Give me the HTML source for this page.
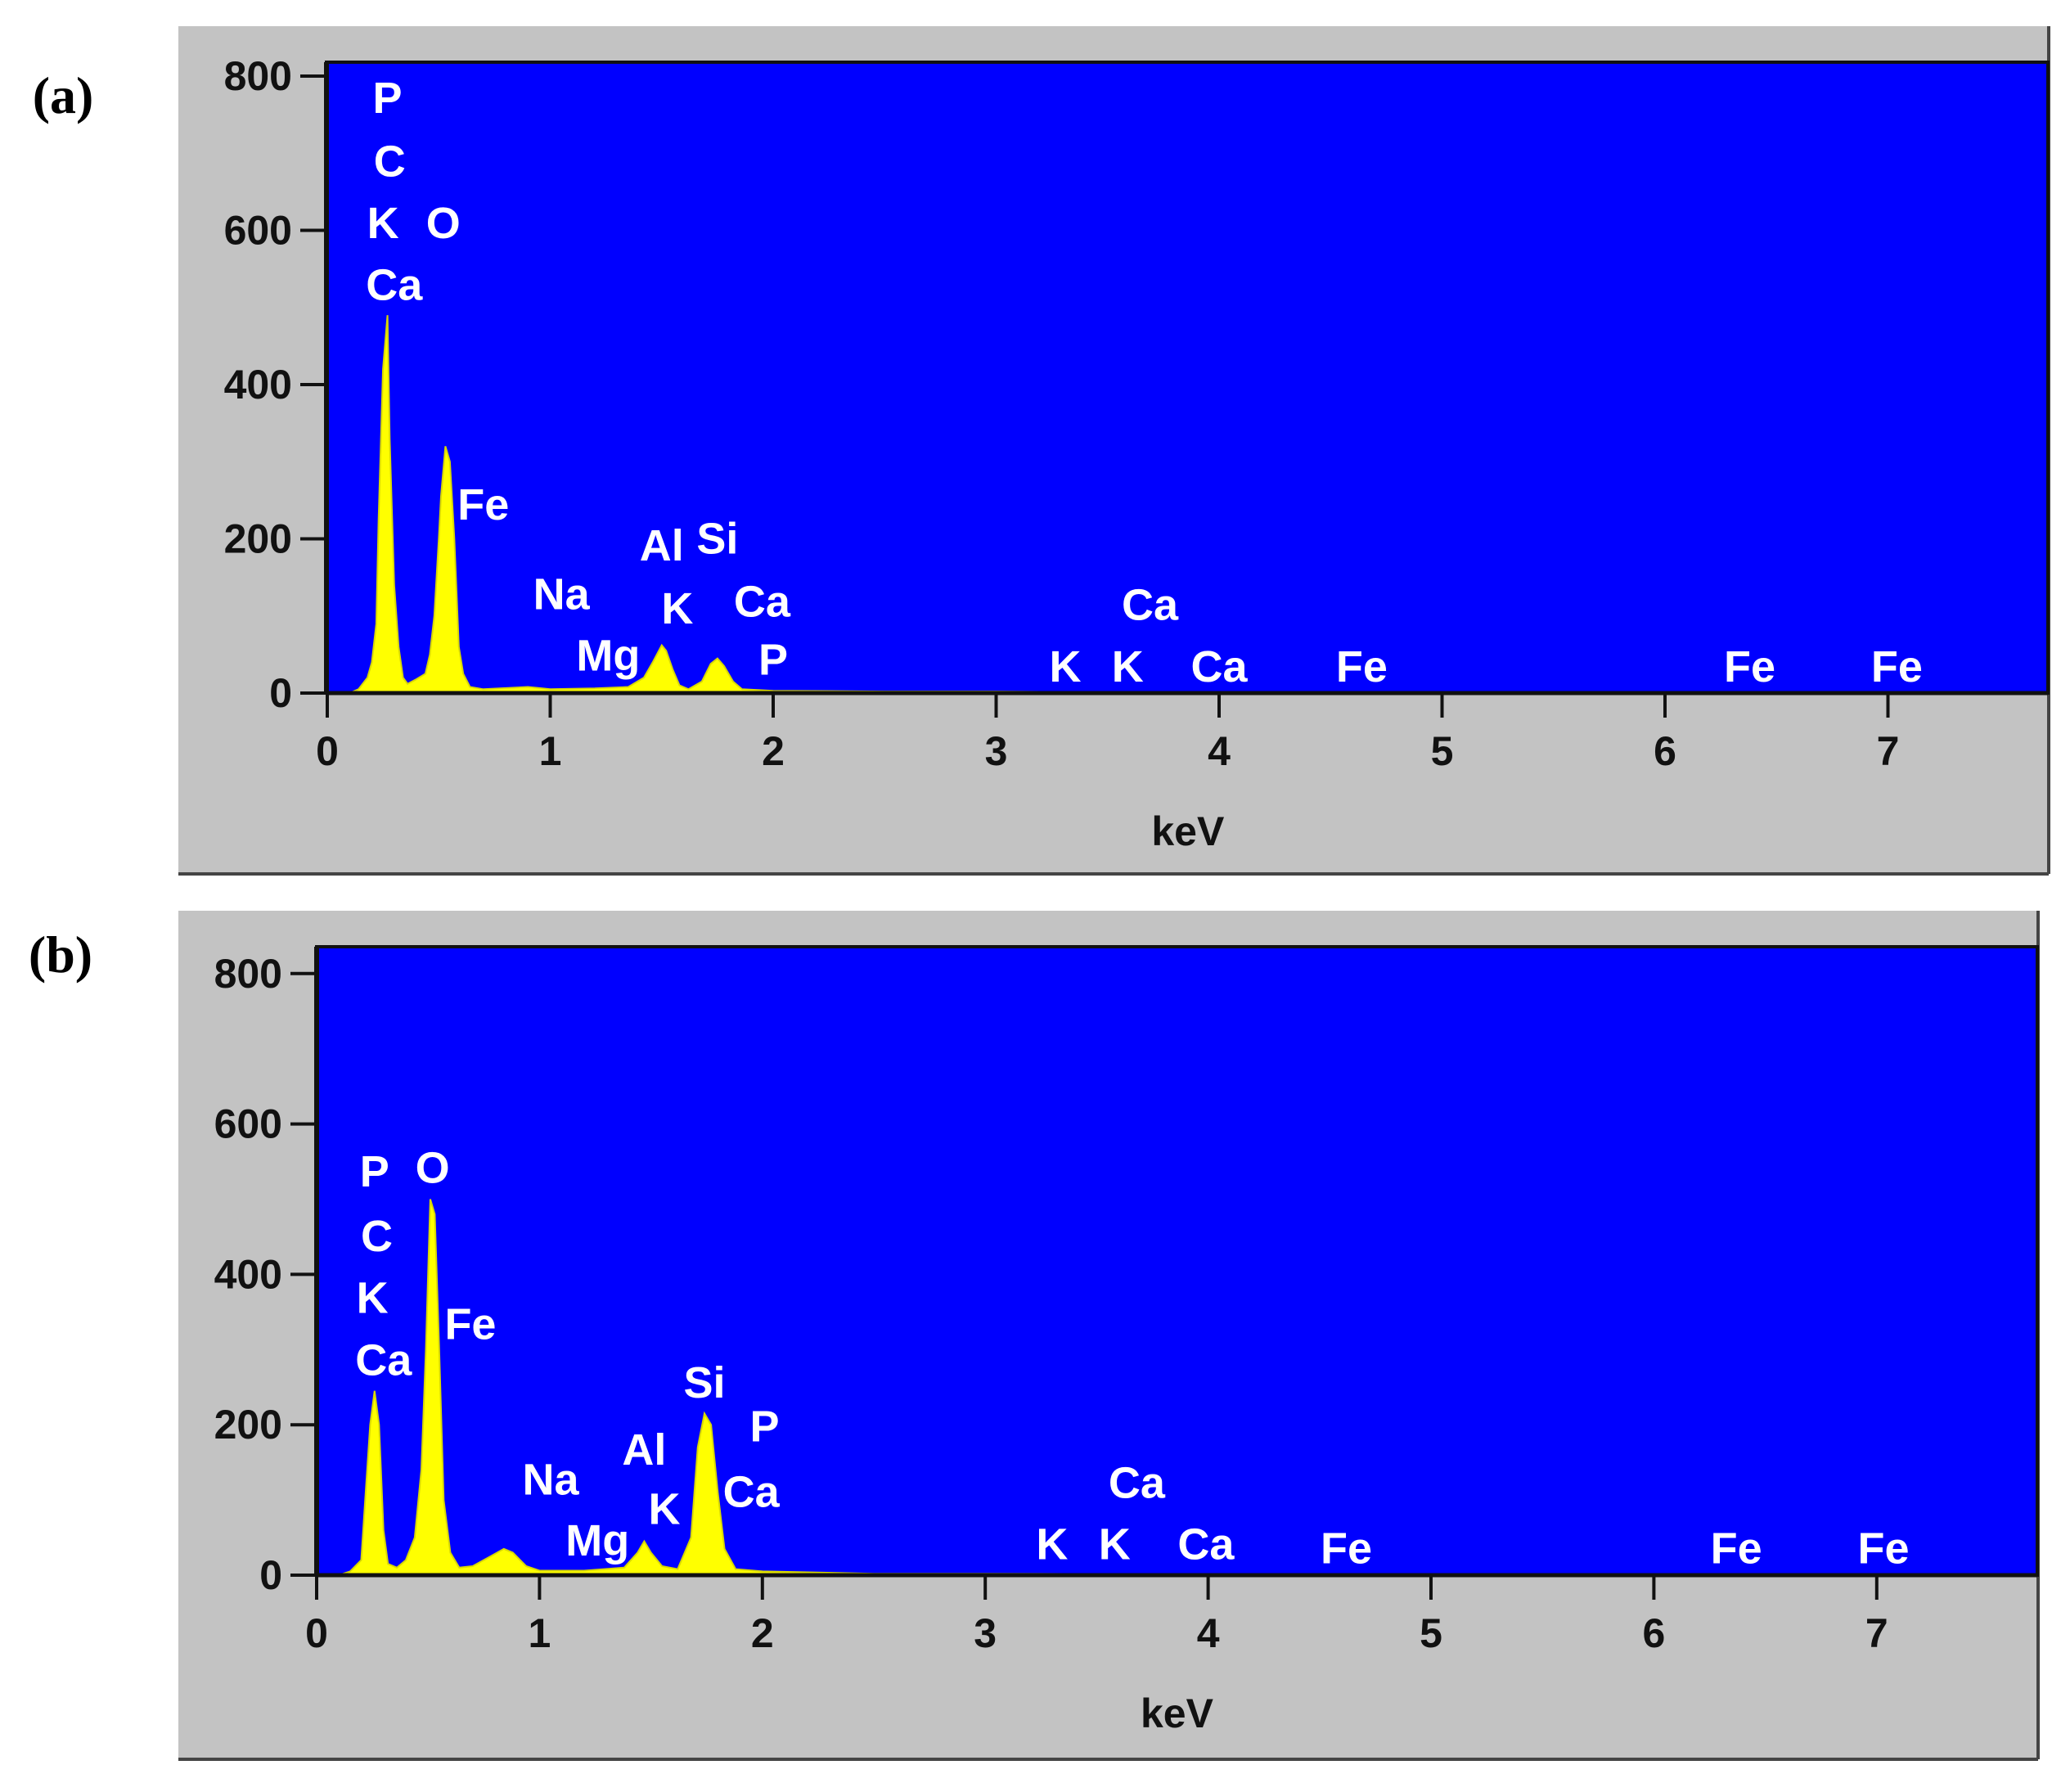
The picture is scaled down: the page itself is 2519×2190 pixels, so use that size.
<!DOCTYPE html>
<html><head><meta charset="utf-8"><style>
html,body{margin:0;padding:0;background:#fff}
svg{display:block}
.tk{font-family:"Liberation Sans",sans-serif;font-weight:bold;font-size:50px;fill:#111}
.el{font-family:"Liberation Sans",sans-serif;font-weight:bold;font-size:54px;fill:#fff}
.pl{font-family:"Liberation Serif",serif;font-weight:bold;font-size:64px;fill:#000}
</style></head><body>
<svg id="fig" width="2519" height="2190" viewBox="0 0 2519 2190" xmlns="http://www.w3.org/2000/svg">
</svg>
<script>
const energyA=[0.10,0.14,0.18,0.20,0.22,0.23,0.25,0.27,0.28,0.30,0.32,0.34,0.36,0.40,0.44,0.46,0.48,0.50,0.51,0.53,0.55,0.57,0.59,0.61,0.64,0.70,0.9,1.0,1.2,1.35,1.42,1.46,1.50,1.52,1.55,1.58,1.62,1.68,1.72,1.75,1.78,1.82,1.86,2.0,2.5,3.0,3.5,4.0,4.3];
const countsA=[0,5,20,40,90,225,420,490,330,140,60,20,12,18,25,50,100,200,255,320,300,200,60,25,8,5,8,5,6,8,20,40,62,55,30,10,5,15,38,45,35,15,5,3,2,2,1,1,0];
const energyB=[0.10,0.15,0.20,0.22,0.24,0.26,0.28,0.30,0.32,0.36,0.40,0.44,0.47,0.49,0.51,0.53,0.55,0.57,0.60,0.64,0.70,0.78,0.84,0.88,0.94,1.0,1.2,1.38,1.44,1.47,1.50,1.55,1.62,1.68,1.71,1.74,1.77,1.80,1.83,1.88,2.0,2.5,3.0,4.0,4.3];
const countsB=[0,5,20,110,200,245,200,60,15,10,20,50,140,300,500,480,300,100,30,10,12,25,35,30,12,6,6,10,30,45,30,12,8,50,170,215,200,110,35,8,5,2,2,1,0];
const yTicks=[0,200,400,600,800];
const xTicks=[0,1,2,3,4,5,6,7];
const labelsA=[["P",0.27,752],["C",0.28,670],["K",0.25,590],["O",0.52,590],["Ca",0.3,510],["Fe",0.7,225],["Na",1.05,109],["Mg",1.26,29],["Al",1.5,172],["Si",1.75,181],["K",1.57,90],["Ca",1.95,99],["P",2.0,24],["K",3.31,15],["Ca",3.69,95],["K",3.59,15],["Ca",4.0,15],["Fe",4.64,15],["Fe",6.38,15],["Fe",7.04,15]];
const labelsB=[["P",0.26,517],["O",0.52,522],["C",0.27,431],["K",0.25,349],["Fe",0.69,314],["Ca",0.3,266],["Na",1.05,107],["Mg",1.26,26],["Al",1.47,147],["Si",1.74,236],["P",2.01,178],["K",1.56,68],["Ca",1.95,91],["Ca",3.68,103],["K",3.3,21],["K",3.58,21],["Ca",3.99,21],["Fe",4.62,16],["Fe",6.37,16],["Fe",7.03,16]];
const NS="http://www.w3.org/2000/svg";
const svg=document.getElementById('fig');
function mk(t,a,p){const e=document.createElementNS(NS,t);for(const k in a)e.setAttribute(k,a[k]);(p||svg).appendChild(e);return e;}
function panel(P){
  const g=mk('g',{});
  
  
  const xs=v=>P.x0+v*P.kx, ys=v=>P.y0-v*P.ky;
  const bg=mk('rect',{x:P.gx,y:P.gy,width:P.gw,height:P.gh,fill:'#c3c3c3'},g);
  
  
  mk('line',{x1:P.gx,y1:P.gy+P.gh,x2:P.gx+P.gw,y2:P.gy+P.gh,stroke:'#444','stroke-width':4},g);
  mk('line',{x1:P.gx+P.gw,y1:P.gy,x2:P.gx+P.gw,y2:P.gy+P.gh,stroke:'#444','stroke-width':4},g);
  const pa=mk('rect',{x:P.bx,y:P.by,width:P.bw,height:P.y0-P.by,fill:'#0000ff',stroke:'#111','stroke-width':4},g);
  
  
  let d='M'+xs(P.e[0])+','+ys(0);
  for(let i=0;i<P.e.length;i++){d+=' L'+xs(P.e[i]).toFixed(1)+','+ys(P.c[i]).toFixed(1);}
  d+=' L'+xs(P.e[P.e.length-1])+','+ys(0)+' Z';
  const sp=mk('path',{d:d,fill:'#ffff00',stroke:'#d8d800','stroke-width':2},g);
  
  
  mk('line',{x1:P.bx,y1:P.y0,x2:P.bx+P.bw,y2:P.y0,stroke:'#111','stroke-width':5},g);
  mk('line',{x1:P.bx,y1:P.by,x2:P.bx,y2:P.y0,stroke:'#111','stroke-width':6},g);
  yTicks.forEach(v=>{
    mk('line',{x1:P.bx-32,y1:ys(v),x2:P.bx,y2:ys(v),stroke:'#111','stroke-width':4},g);
    const t=mk('text',{x:P.bx-42,y:ys(v)+17,'text-anchor':'end',class:'tk'},g);t.textContent=v;
    
    
  });
  xTicks.forEach(v=>{
    mk('line',{x1:xs(v),y1:P.y0,x2:xs(v),y2:P.y0+30,stroke:'#111','stroke-width':4},g);
    const t=mk('text',{x:xs(v),y:P.y0+88,'text-anchor':'middle',class:'tk'},g);t.textContent=v;
    
    
  });
  const xt=mk('text',{x:xs(3.86),y:P.y0+186,'text-anchor':'middle',class:'tk'},g);xt.textContent='keV';
  
  
  P.lab.forEach(l=>{
    const t=mk('text',{x:xs(l[1]),y:ys(l[2]),'text-anchor':'middle',class:'el'},g);t.textContent=l[0];
    
    
  });
  const pl=mk('text',{x:P.lx,y:P.ly,'text-anchor':'middle',class:'pl'},g);pl.textContent=P.tag;
  
  
}
panel({name:'panel-a',gx:218,gy:32,gw:2286,gh:1036,bx:399,by:76,bw:2104,x0:400,y0:847,kx:272.5,ky:0.9425,e:energyA,c:countsA,lab:labelsA,tag:'(a)',lx:77,ly:138});
panel({name:'panel-b',gx:218,gy:1113,gw:2273,gh:1037,bx:387,by:1157,bw:2103,x0:387,y0:1925,kx:272.4,ky:0.919,e:energyB,c:countsB,lab:labelsB,tag:'(b)',lx:74,ly:1188});
</script>
</body></html>
